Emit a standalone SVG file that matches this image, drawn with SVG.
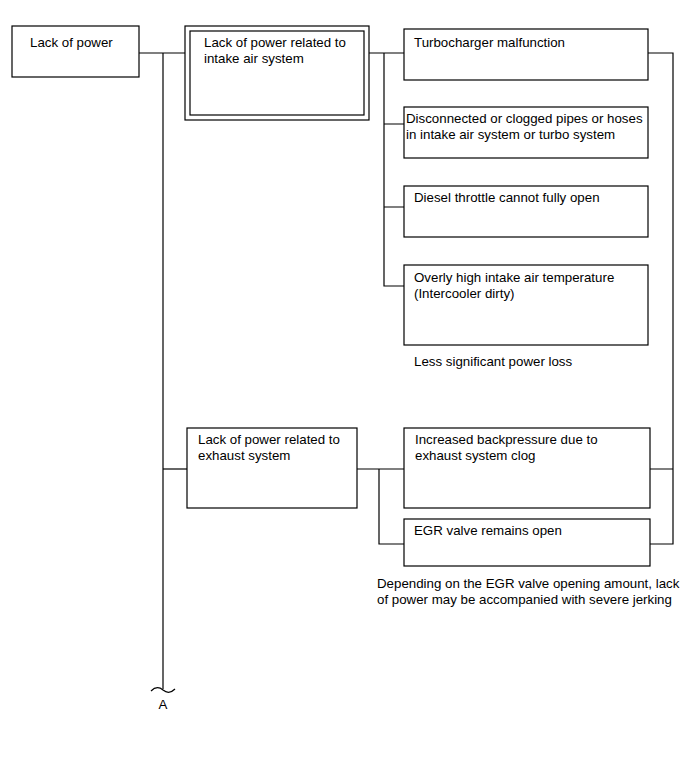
<svg xmlns="http://www.w3.org/2000/svg" width="691" height="757" viewBox="0 0 691 757">
<style>
.box{fill:#fff;stroke:#000;stroke-width:1.2}
.ln{fill:none;stroke:#000;stroke-width:1.2}
text{font-family:"Liberation Sans",Arial,sans-serif;font-size:13.3px;fill:#000}
</style>
<rect width="691" height="757" fill="#fff"/>
<g id="connectors">
<path class="ln" d="M139,53H187M163,53V689"/>
<path class="ln" d="M151,691 Q157,685 163,690 Q169,695 175,689"/>
<path class="ln" d="M163,469H187"/>
<path class="ln" d="M369,53H404M384,53V286H404M384,124H404M384,207H404"/>
<path class="ln" d="M648,53H673V544H650M650,469H673"/>
<path class="ln" d="M357,469H404M379,469V544H404"/>
</g>
<g id="n-lack"><rect class="box" x="12" y="26" width="127" height="51"/><text x="30" y="47">Lack of power</text></g>
<g id="n-intake"><rect class="box" x="185" y="26" width="184" height="94"/><rect class="box" x="190" y="31" width="174" height="84"/><text x="204" y="47">Lack of power related to</text><text x="204" y="63">intake air system</text></g>
<g id="n-turbo"><rect class="box" x="404" y="29" width="244" height="51"/><text x="414" y="47">Turbocharger malfunction</text></g>
<g id="n-pipes"><rect class="box" x="404" y="107" width="244" height="51"/><text x="406" y="123">Disconnected or clogged pipes or hoses</text><text x="406" y="139">in intake air system or turbo system</text></g>
<g id="n-throttle"><rect class="box" x="404" y="186" width="244" height="51"/><text x="414" y="202">Diesel throttle cannot fully open</text></g>
<g id="n-temp"><rect class="box" x="404" y="265" width="244" height="80"/><text x="414" y="282">Overly high intake air temperature</text><text x="414" y="298">(Intercooler dirty)</text></g>
<text x="414" y="366">Less significant power loss</text>
<g id="n-exhaust"><rect class="box" x="187" y="428" width="170" height="80"/><text x="198" y="444">Lack of power related to</text><text x="198" y="460">exhaust system</text></g>
<g id="n-back"><rect class="box" x="404" y="428" width="246" height="80"/><text x="415" y="444">Increased backpressure due to</text><text x="415" y="460">exhaust system clog</text></g>
<g id="n-egr"><rect class="box" x="404" y="519" width="246" height="47"/><text x="414" y="535">EGR valve remains open</text></g>
<text x="377" y="588">Depending on the EGR valve opening amount, lack</text>
<text x="377" y="604">of power may be accompanied with severe jerking</text>
<text x="163" y="709" text-anchor="middle">A</text>
</svg>
